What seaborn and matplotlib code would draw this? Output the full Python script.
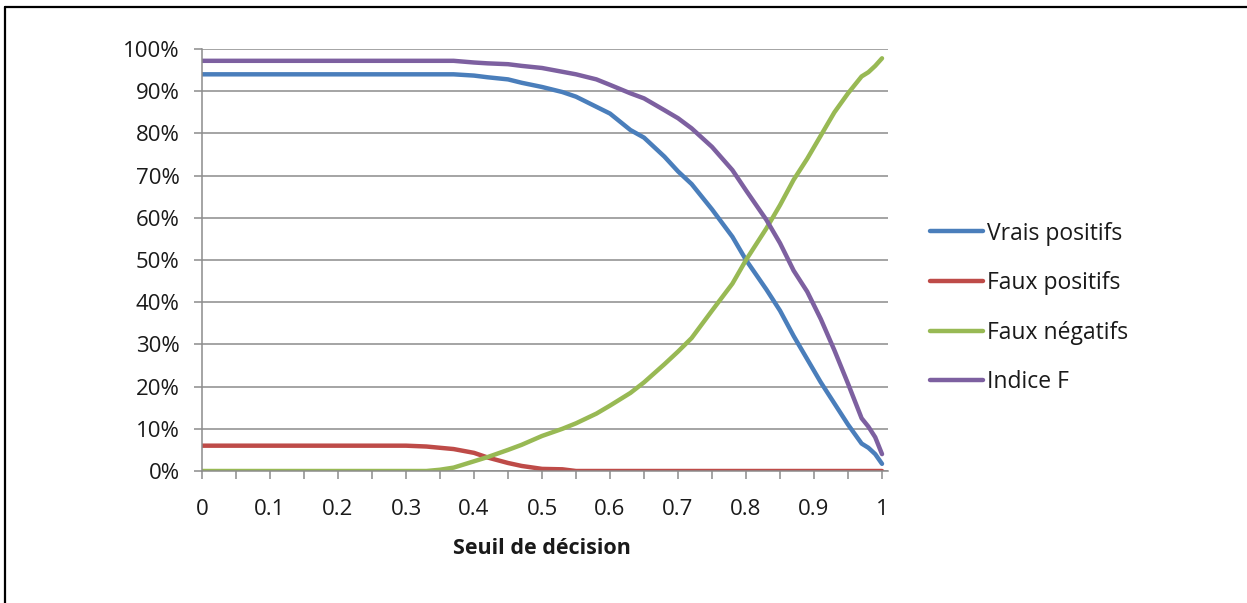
import numpy as np
import pandas as pd
import seaborn as sns
import matplotlib
matplotlib.use("Agg")
import matplotlib.pyplot as plt
from matplotlib.lines import Line2D
from matplotlib.ticker import FuncFormatter, MultipleLocator

# ---- data ----
seuil = [0.0, 0.1, 0.2, 0.3, 0.33, 0.35, 0.37, 0.4, 0.42, 0.45, 0.47, 0.5, 0.53, 0.55,
         0.58, 0.6, 0.63, 0.65, 0.68, 0.7, 0.72, 0.75, 0.78, 0.8, 0.83, 0.85, 0.87,
         0.89, 0.91, 0.93, 0.95, 0.97, 0.98, 0.99, 1.0]
vrais_positifs = [94, 94, 94, 94, 94, 94, 94, 93.7, 93.3, 92.8, 92, 91, 89.8, 88.7,
                  86.3, 84.7, 80.8, 79, 74.5, 71, 68, 62, 55.5, 50, 43, 38, 32,
                  26.5, 21, 16, 11, 6.5, 5.5, 4, 1.7]
faux_positifs = [6, 6, 6, 6, 5.8, 5.5, 5.2, 4.3, 3.2, 1.9, 1.2, 0.5, 0.4, 0,
                 0, 0, 0, 0, 0, 0, 0, 0, 0, 0, 0, 0, 0,
                 0, 0, 0, 0, 0, 0, 0, 0]
faux_negatifs = [0, 0, 0, 0, 0, 0.3, 0.8, 2.3, 3.3, 5, 6.2, 8.3, 10, 11.3,
                 13.6, 15.5, 18.5, 21, 25.3, 28.3, 31.5, 38, 44.4, 50, 57.5, 63, 69,
                 74, 79.5, 85, 89.5, 93.5, 94.5, 96, 97.8]
indice_f = [97.2, 97.2, 97.2, 97.2, 97.2, 97.2, 97.2, 96.8, 96.6, 96.4, 96, 95.5, 94.6, 94,
            92.8, 91.5, 89.5, 88.3, 85.5, 83.6, 81.2, 76.8, 71.3, 66.5, 59.5, 54, 47.5,
            42.5, 36, 28.6, 20.7, 12.5, 10.5, 8, 4]

series_names = ["Vrais positifs", "Faux positifs", "Faux négatifs", "Indice F"]
series_values = [vrais_positifs, faux_positifs, faux_negatifs, indice_f]
colors = ["#4A7EBB", "#BE4B48", "#98B954", "#7D60A0"]
x_ticks = [0, 0.1, 0.2, 0.3, 0.4, 0.5, 0.6, 0.7, 0.8, 0.9, 1]

df = pd.concat([
    pd.DataFrame({"Seuil": seuil, "Valeur": np.array(v) / 100.0, "Série": n})
    for n, v in zip(series_names, series_values)
], ignore_index=True)

sns.set_style("white")
plt.rcParams["font.family"] = ["Open Sans", "DejaVu Sans"]

W, H = 1247, 603
fig = plt.figure(figsize=(W / 100, H / 100), dpi=100)
XMAX = 1.0088
ax = fig.add_axes([202 / W, 1 - 471 / H, (888 - 202) / W, (471 - 49) / H])

sns.lineplot(data=df, x="Seuil", y="Valeur", hue="Série", hue_order=series_names,
             palette=colors, linewidth=3.2, ax=ax, legend=False, sort=False)
for ln in ax.get_lines():
    ln.set_solid_joinstyle("round")

ax.set_xlim(0, XMAX)
ax.set_ylim(0, 1.0)
ax.yaxis.set_major_locator(MultipleLocator(0.1))
ax.yaxis.set_major_formatter(FuncFormatter(lambda v, p: f"{int(round(v * 100))}%"))
ax.set_xticks(x_ticks)
ax.set_xticklabels([("%g" % t) for t in x_ticks])
ax.xaxis.set_minor_locator(MultipleLocator(0.05))

grid_c = "#8C8C8C"
ax.grid(axis="y", color=grid_c, linewidth=1.1)
ax.set_axisbelow(True)
for s in ["top", "right"]:
    ax.spines[s].set_visible(False)
for s in ["left", "bottom"]:
    ax.spines[s].set_color(grid_c)
    ax.spines[s].set_linewidth(1.1)

ax.tick_params(axis="both", which="both", direction="out", length=6, width=1.1,
               color=grid_c, labelsize=16, labelcolor="#1a1a1a",
               bottom=True, left=True)
ax.tick_params(axis="y", which="minor", left=False)
ax.tick_params(axis="y", pad=10)
ax.tick_params(axis="x", pad=14)

ax.set_ylabel("")
ax.set_xlabel("Seuil de décision", fontsize=15.5, fontweight="bold", color="#1a1a1a")
ax.xaxis.label.set_verticalalignment("center")
ax.xaxis.set_label_coords(0.5 / XMAX, -(548 - 471) / 422)

handles = [Line2D([0], [0], color=c, lw=3.2, solid_capstyle="round") for c in colors]
fig.legend(handles, series_names, loc="center left",
           bbox_to_anchor=(930 / W, 1 - 308 / H), frameon=False,
           fontsize=16.5, handlelength=2.3, handletextpad=0.17, labelspacing=1.12,
           borderpad=0, borderaxespad=0, labelcolor="#1a1a1a")

# outer frame (left and top edges visible in the reference)
fig.add_artist(Line2D([4.5 / W, 4.5 / W], [0, 1 - 7 / H], transform=fig.transFigure,
                      color="black", lw=1.6))
fig.add_artist(Line2D([4.5 / W, 1], [1 - 7 / H, 1 - 7 / H], transform=fig.transFigure,
                      color="black", lw=1.6))

fig.savefig("out.png", dpi=100, facecolor="white")
